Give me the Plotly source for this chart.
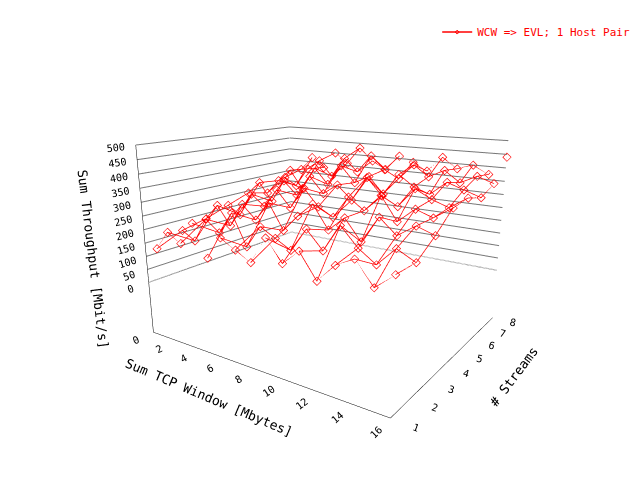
import plotly.graph_objects as go

windows = [1,2,3,4,5,6,7,8,9,10,11,12,13,14,15,16]
streams = [1,2,3,4,5,6,7,8]
throughput = {
 1: [140,210,180,260,150,230,200,170,260,190,240,160,220,250,180,230],
 2: [180,150,240,200,280,170,250,220,190,270,210,300,240,200,260,230],
 3: [200,260,190,280,230,300,210,270,320,240,290,220,310,260,300,280],
 4: [230,200,290,250,320,260,340,280,250,330,290,350,270,320,300,340],
 5: [260,310,240,330,280,360,300,340,290,380,320,290,360,330,310,350],
 6: [240,300,350,280,370,310,390,330,360,300,380,340,320,370,350,330],
 7: [290,260,340,380,320,400,350,420,370,340,400,360,390,350,380,360],
 8: [310,370,330,400,360,430,380,350,410,390,360,420,380,400,370,440],
}

fig = go.Figure()
mk = dict(symbol='diamond-open', size=3, color='red')
first = True
for s in streams:
    fig.add_trace(go.Scatter3d(x=windows, y=[s]*len(windows), z=throughput[s],
        mode='lines+markers', line=dict(color='red', width=1.5), marker=mk,
        name='WCW => EVL; 1 Host Pair', showlegend=first))
    first = False
for i, w in enumerate(windows):
    fig.add_trace(go.Scatter3d(x=[w]*len(streams), y=streams,
        z=[throughput[s][i] for s in streams], mode='lines',
        line=dict(color='red', width=1.5), showlegend=False))

ax = dict(showbackground=False, showgrid=False, linecolor='black', showline=True,
          tickfont=dict(family='DejaVu Sans Mono', size=11, color='black'),
          title_font=dict(family='DejaVu Sans Mono', size=11, color='black'))
fig.update_layout(
    width=640, height=480, margin=dict(l=0, r=0, t=0, b=0),
    paper_bgcolor='white',
    font=dict(family='DejaVu Sans Mono', size=11, color='black'),
    legend=dict(x=0.98, y=0.98, xanchor='right', font=dict(color='red', size=11)),
    scene=dict(
        xaxis=dict(ax, title='Sum TCP Window [Mbytes]', range=[0,16], tickvals=[0,2,4,6,8,10,12,14,16]),
        yaxis=dict(ax, title='# Streams', range=[1,8], tickvals=streams),
        zaxis=dict(ax, showgrid=True, gridcolor='#777', title='Sum Throughput [Mbit/s]', range=[-200,500],
                   tickvals=[0,50,100,150,200,250,300,350,400,450,500]),
        aspectmode='manual', aspectratio=dict(x=1.3, y=1.1, z=0.9),
        camera=dict(eye=dict(x=1.5, y=-2.2, z=0.75), center=dict(x=0, y=0, z=-0.05)),
    ),
)
fig.write_html('out.html')
